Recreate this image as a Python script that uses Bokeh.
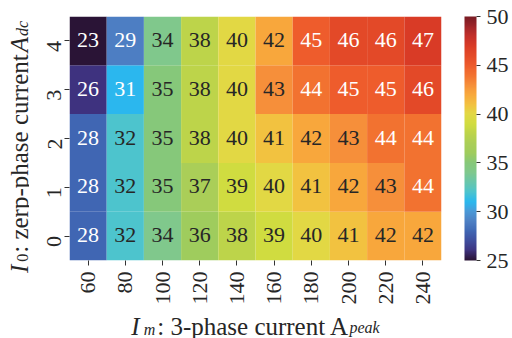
import math
from bokeh.plotting import figure
from bokeh.layouts import row, column
from bokeh.models import ColumnDataSource, LinearColorMapper, ColorBar, FixedTicker, Range1d
from bokeh.core.properties import value
from bokeh.embed import file_html
from bokeh.resources import INLINE

# ---------------- data ----------------
currents_m = ["60", "80", "100", "120", "140", "160", "180", "200", "220", "240"]
currents_0 = ["0", "1", "2", "3", "4"]
row_0 = [28, 32, 34, 36, 38, 39, 40, 41, 42, 42]
row_1 = [28, 32, 35, 37, 39, 40, 41, 42, 43, 44]
row_2 = [28, 32, 35, 38, 40, 41, 42, 43, 44, 44]
row_3 = [26, 31, 35, 38, 40, 43, 44, 45, 45, 46]
row_4 = [23, 29, 34, 38, 40, 42, 45, 46, 46, 47]
rows = [row_0, row_1, row_2, row_3, row_4]
cbar_ticks = [25, 30, 35, 40, 45, 50]
vmin, vmax = 25, 50

# ---------------- colour map (style) ----------------
stop_vals = list(range(25, 51))
stop_cols = ["#2a1436", "#3e3380", "#3f4e9e", "#4068b4", "#4e80c4", "#4a9ad8",
             "#2ab8ee", "#4ec4cc", "#68c6ac", "#80c88c", "#86c87a", "#a0cc5c",
             "#aace58", "#bcd44a", "#d0dc40", "#e2d844", "#f2c240", "#f8a83c",
             "#f6903a", "#f27230", "#ee5c2c", "#e44a28", "#da3c26", "#c4302a",
             "#a0262a", "#7a1c24"]

def hex2rgb(h):
    return tuple(int(h[i:i + 2], 16) for i in (1, 3, 5))

def make_palette(n=256):
    pal = []
    for i in range(n):
        v = vmin + (vmax - vmin) * i / (n - 1)
        k = min(int(v - vmin), len(stop_cols) - 2)
        t = (v - stop_vals[k]) / (stop_vals[k + 1] - stop_vals[k])
        a, b = hex2rgb(stop_cols[k]), hex2rgb(stop_cols[k + 1])
        c = [round(a[j] + (b[j] - a[j]) * t) for j in range(3)]
        pal.append("#%02x%02x%02x" % tuple(c))
    return pal

palette = make_palette()
mapper = LinearColorMapper(palette=palette, low=vmin, high=vmax)

xs, ys, vals, labels, tcols = [], [], [], [], []
for r, rowvals in zip(currents_0, rows):
    for c, v in zip(currents_m, rowvals):
        xs.append(c)
        ys.append(r)
        vals.append(v)
        labels.append(str(v))
        tcols.append("#ffffff" if (v <= 31 or v >= 44) else "#262626")
src = ColumnDataSource(dict(x=xs, y=ys, v=vals, label=labels, tc=tcols))

FONT = "Liberation Serif"
TXT = "#262626"
FW, FH = 372, 244
LW = 29            # width of the y-label strip
MB_BOTTOM = 45
BH = 338 - (16 + FH + MB_BOTTOM)   # height of the x-label strip
W_MAIN = 512 - LW

p = figure(x_range=currents_m, y_range=currents_0, frame_width=FW, frame_height=FH,
           output_backend="svg", toolbar_location=None, frame_align=False, title=None,
           min_border_left=69 - LW, min_border_top=16, min_border_bottom=MB_BOTTOM,
           min_border_right=W_MAIN - (69 - LW) - FW)
p.rect(x="x", y="y", width=1, height=1, source=src,
       fill_color={"field": "v", "transform": mapper}, line_color=None)
p.text(x="x", y="y", text="label", source=src, text_align="center", text_baseline="middle",
       text_font=value(FONT), text_font_size="22px", text_color="tc", y_offset=-1)

p.grid.visible = False
p.outline_line_color = None
p.background_fill_color = None
p.border_fill_color = None
for ax in (p.xaxis[0], p.yaxis[0]):
    ax.axis_line_color = None
    ax.major_tick_in = 0
    ax.major_tick_out = 5
    ax.major_tick_line_color = "#333333"
    ax.major_label_text_font = FONT
    ax.major_label_text_font_size = "22px"
    ax.major_label_text_color = TXT
    ax.major_label_standoff = 6
    ax.major_label_orientation = math.pi / 2
p.yaxis.major_label_standoff = 10

cb = ColorBar(color_mapper=mapper, ticker=FixedTicker(ticks=cbar_ticks), width=12, height=FH,
              location=(23, 0), margin=0, padding=0, major_tick_in=0, major_tick_out=4,
              major_tick_line_color="#333333", bar_line_color=None, border_line_color=None,
              background_fill_color=None, major_label_text_font=FONT,
              major_label_text_font_size="22px", major_label_text_color=TXT,
              label_standoff=6)
p.add_layout(cb, "right")

# ---------------- axis-title strips (text pieces with subscripts) ----------------
REG = {' ': 250, ':': 278, '-': 333, 'A': 722, 'a': 444, 'c': 444, 'e': 444, 'h': 500,
       'n': 500, 'p': 500, 'r': 333, 's': 389, 't': 278, 'u': 500, 'z': 444}
ITA = {'I': 333, 'm': 722, 'p': 500, 'e': 444, 'a': 500, 'k': 444, 'A': 611, 'd': 500, 'c': 444}

def tw(s, italic, size):
    tab = ITA if italic else REG
    return sum(tab.get(ch, 500) for ch in s) * size / 1000.0

def total(pieces):
    return sum(tw(tx, it, sz) + g for tx, it, sz, _, g in pieces)

def strip(w, h):
    f = figure(width=w, height=h, x_range=Range1d(0, w), y_range=Range1d(0, h),
               output_backend="svg", toolbar_location=None, frame_align=False, title=None,
               min_border=0, min_border_left=0, min_border_right=0,
               min_border_top=0, min_border_bottom=0,
               x_axis_location=None, y_axis_location=None)
    f.grid.visible = False
    f.outline_line_color = None
    f.background_fill_color = None
    f.border_fill_color = None
    return f

def pieces_source(pieces, horizontal, along0, across0):
    d = dict(x=[], y=[], text=[], style=[], size=[])
    t = along0
    for text, italic, size, shift, gap in pieces:
        if horizontal:
            d["x"].append(t); d["y"].append(across0 + shift)
        else:
            d["x"].append(across0 - shift); d["y"].append(t)
        d["text"].append(text)
        d["style"].append("italic" if italic else "normal")
        d["size"].append("%dpx" % size)
        t += tw(text, italic, size) + gap
    return ColumnDataSource(d)

x_pieces = [("I", True, 25, 0, 4), ("m", True, 16, -3, 2),
            (": 3-phase current A", False, 25, 0, 0), ("peak", True, 16, -1, 0)]
y_pieces = [("I", True, 25, 0, 3), ("0", False, 16, -3, 1),
            (": zerp-phase current", False, 25, 0, 2), ("A", True, 25, 0, 1),
            ("dc", True, 16, -3, 0)]

xl = strip(W_MAIN, BH)
cx = 69 - LW + FW / 2
xl.text(x="x", y="y", text="text", source=pieces_source(x_pieces, True, cx - total(x_pieces) / 2, 14.5),
        text_font=value(FONT), text_font_style="style", text_font_size="size",
        text_color=TXT, text_align="left", text_baseline="alphabetic")

yl = strip(LW, 338)
cy = 338 - 146.5
yl.text(x="x", y="y", text="text", source=pieces_source(y_pieces, False, cy - total(y_pieces) / 2, 19),
        text_font=value(FONT), text_font_style="style", text_font_size="size",
        text_color=TXT, text_align="left", text_baseline="alphabetic", angle=math.pi / 2)

layout = row(yl, column(p, xl, spacing=0), spacing=0)
open("out.html", "w").write(file_html(layout, INLINE))
